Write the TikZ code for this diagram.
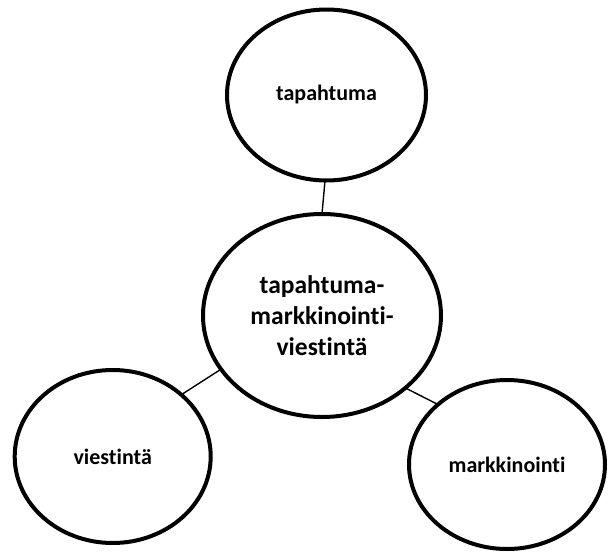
\documentclass[tikz,border=0pt]{standalone}
\usepackage{fontspec}
\setmainfont[Ligatures=NoCommon]{Carlito}
\usetikzlibrary{shapes.geometric}
\begin{document}
\begin{tikzpicture}[x=1pt,y=-1pt,
  bubble/.style={draw, ellipse, line width=4pt, inner sep=0pt, outer sep=0pt,
    font=\bfseries\fontsize{22}{26}\selectfont, align=center},
  link/.style={draw, line width=1.4pt}]
  \useasboundingbox (0,0) rectangle (608,552);
  % outer circles
  \node[bubble, minimum width=199pt, minimum height=171pt] (top) at (326.5,95) {tapahtuma};
  \node[bubble, minimum width=196pt, minimum height=173pt] (left) at (112.7,456.5) {viestintä};
  \node[bubble, minimum width=196pt, minimum height=169pt] (right) at (507,464.5) {markkinointi};
  % central circle
  \node[bubble, minimum width=238pt, minimum height=203pt,
        font=\bfseries\fontsize{25.5}{31}\selectfont] (mid) at (322,315.5)
        {tapahtuma-\\markkinointi-\\viestintä};
  % connectors
  \draw[link] (mid.90) -- (top.-91);
  \draw[link] (mid.208) -- (left.42);
  \draw[link] (mid.-41) -- (right.139);
\end{tikzpicture}
\end{document}
